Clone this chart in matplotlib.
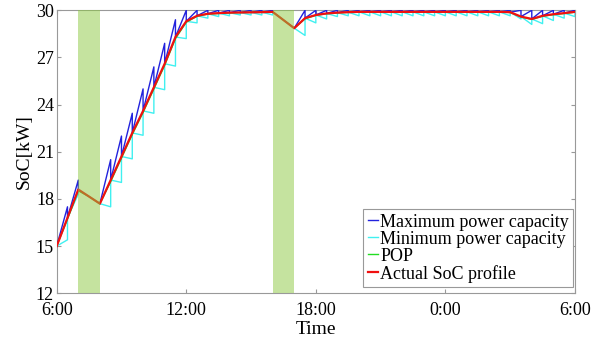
import numpy as np
import matplotlib

matplotlib.use('Agg')
import matplotlib.pyplot as plt

plt.rcParams['font.family'] = ['Liberation Serif', 'DejaVu Serif']

# half-hour grid, 6:00 -> 6:00 next day (hours)
t = np.arange(6.0, 30.01, 0.5)

# actual SoC at every half hour
soc = [15.0, 16.8, 18.6, 18.15, 17.7, 19.2, 20.7, 22.2, 23.6, 25.1,
       26.6, 28.3, 29.3, 29.65, 29.78, 29.82, 29.85, 29.86, 29.87, 29.88,
       29.9, 29.38, 28.86, 29.5, 29.7, 29.8, 29.85, 29.88, 29.9, 29.9,
       29.9, 29.9, 29.9, 29.9, 29.9, 29.9, 29.9, 29.9, 29.9, 29.9,
       29.9, 29.9, 29.88, 29.6, 29.45, 29.65, 29.75, 29.82, 29.9]

# POP (optimal profile) - sits just under the actual profile
pop = [15.0, 16.72, 18.52, 18.15, 17.7, 19.1, 20.6, 22.1, 23.5, 25.0,
       26.5, 28.2, 29.24, 29.62, 29.76, 29.8, 29.84, 29.86, 29.87, 29.88,
       29.9, 29.38, 28.86, 29.46, 29.68, 29.78, 29.84, 29.87, 29.9, 29.9,
       29.9, 29.9, 29.9, 29.9, 29.9, 29.9, 29.9, 29.9, 29.9, 29.9,
       29.9, 29.9, 29.86, 29.58, 29.42, 29.62, 29.72, 29.8, 29.88]

# reachable SoC at the end of each half-hour slot (nan = no bid, green windows)
nan = np.nan
max_end = [17.5, 19.2, nan, nan, 20.5, 22.0, 23.45, 25.0, 26.4, 27.9,
           29.4, 30.0, 30.0, 30.0, 30.0, 30.0, 30.0, 30.0, 30.0, 30.0,
           nan, nan, 30.0, 30.0, 30.0, 30.0, 30.0, 30.0, 30.0, 30.0,
           30.0, 30.0, 30.0, 30.0, 30.0, 30.0, 30.0, 30.0, 30.0, 30.0,
           30.0, 30.0, 30.0, 30.0, 30.0, 30.0, 30.0, 30.0]
min_end = [15.4, 18.3, nan, nan, 17.5, 19.05, 20.55, 22.05, 23.45, 24.95,
           26.45, 28.2, 29.2, 29.5, 29.6, 29.65, 29.7, 29.7, 29.7, 29.7,
           nan, nan, 28.4, 29.2, 29.45, 29.6, 29.65, 29.65, 29.65, 29.65,
           29.65, 29.65, 29.65, 29.65, 29.65, 29.65, 29.65, 29.65, 29.65, 29.65,
           29.65, 29.65, 29.45, 29.1, 29.15, 29.35, 29.5, 29.6]

# unavailable windows
windows = [(7, 8), (16, 17)]


def sawtooth(ends):
    xs, ys = [], []
    for k, e in enumerate(ends):
        if np.isnan(e):
            xs.append(np.nan); ys.append(np.nan)
            continue
        xs += [t[k], t[k + 1], t[k + 1]]
        ys += [soc[k], e, soc[k + 1]]
    return xs, ys


fig = plt.figure(figsize=(5.93, 3.43), dpi=100)
ax = fig.add_axes([0.0956, 0.145, 0.874, 0.825])

bx, by = sawtooth(max_end)
cx, cy = sawtooth(min_end)
ax.plot(cx, cy, color='#40f0f0', lw=1.0, label='Minimum power capacity', zorder=2)
ax.plot(bx, by, color='#2222dd', lw=1.0, label='Maximum power capacity', zorder=3)
ax.plot(t, pop, color='#22dd22', lw=1.0, label='POP', zorder=3)
ax.plot(t, soc, color='#f01010', lw=1.6, label='Actual SoC profile', zorder=4)

for a, b in windows:
    ax.axvspan(a, b, color='#8dc941', alpha=0.5, lw=0, zorder=5)

ax.set_xlim(6, 30)
ax.set_ylim(12, 30)
ax.set_xticks([6, 12, 18, 24, 30])
ax.set_xticklabels(['6:00', '12:00', '18:00', '0:00', '6:00'])
ax.set_yticks([12, 15, 18, 21, 24, 27, 30])
ax.tick_params(direction='in', top=True, right=True, labelsize=13,
               length=3, color='#999999', pad=2)
ax.tick_params(axis='x', pad=6)
for s in ax.spines.values():
    s.set_color('#999999')
    s.set_linewidth(0.8)

ax.set_xlabel('Time', fontsize=14, labelpad=2)
ax.set_ylabel('SoC[kW]', fontsize=14, labelpad=2)

h, l = ax.get_legend_handles_labels()
order = [1, 0, 2, 3]
leg = ax.legend([h[i] for i in order], [l[i] for i in order], loc='lower right',
                fontsize=13, handlelength=0.6, handletextpad=0.1, labelspacing=0.0,
                borderpad=0.25, borderaxespad=0, fancybox=False, framealpha=1,
                edgecolor='#999999', bbox_to_anchor=(0.997, 0.022))
leg.get_frame().set_linewidth(0.8)

plt.savefig('out.png', dpi=100)
